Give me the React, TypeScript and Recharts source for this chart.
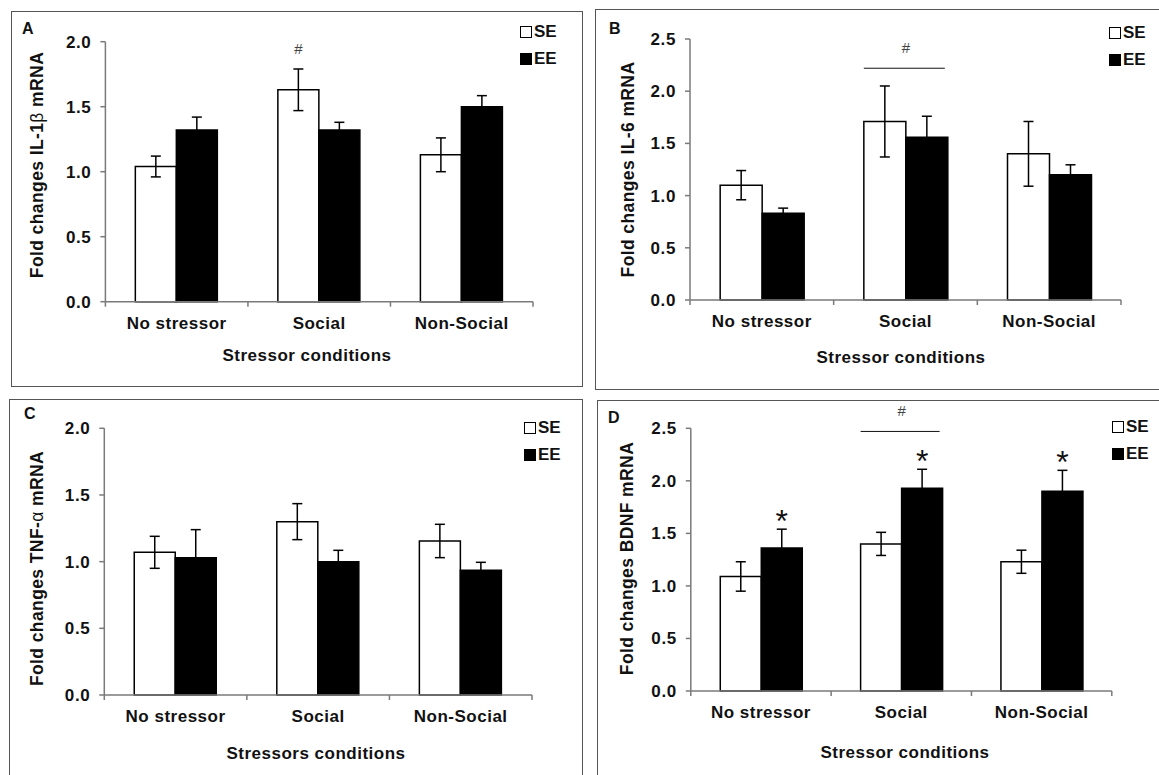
import React from 'react';
import { BarChart, Bar, XAxis, YAxis, ErrorBar, LabelList, Legend, Label } from 'recharts';

const categories = ['No stressor', 'Social', 'Non-Social'];

// A: IL-1β
const il1bSE = [1.04, 1.63, 1.13];
const il1bSEErr = [0.08, 0.16, 0.13];
const il1bEE = [1.32, 1.32, 1.5];
const il1bEEErr = [0.1, 0.06, 0.085];
const il1bSESig = ['', '#', ''];
const il1bEESig = ['', '', ''];

// B: IL-6
const il6SE = [1.1, 1.71, 1.4];
const il6SEErr = [0.14, 0.34, 0.31];
const il6EE = [0.83, 1.56, 1.2];
const il6EEErr = [0.05, 0.2, 0.095];
const il6SESig = ['', '', ''];
const il6EESig = ['', '', ''];

// C: TNF-α
const tnfSE = [1.07, 1.3, 1.155];
const tnfSEErr = [0.12, 0.135, 0.125];
const tnfEE = [1.03, 1.0, 0.935];
const tnfEEErr = [0.21, 0.085, 0.06];
const tnfSESig = ['', '', ''];
const tnfEESig = ['', '', ''];

// D: BDNF
const bdnfSE = [1.09, 1.4, 1.23];
const bdnfSEErr = [0.14, 0.11, 0.11];
const bdnfEE = [1.36, 1.93, 1.9];
const bdnfEEErr = [0.18, 0.18, 0.2];
const bdnfSESig = ['', '', ''];
const bdnfEESig = ['*', '*', '*'];

const ticks2 = [0, 0.5, 1, 1.5, 2];
const ticks25 = [0, 0.5, 1, 1.5, 2, 2.5];

const FONT = '"Liberation Sans", Arial, Helvetica, sans-serif';
const AXIS = '#7a7a7a';
const INK = '#111';

type Margin = { top: number; right: number; bottom: number; left: number };

interface PanelCfg {
  letter: string;
  left: number;
  top: number;
  width: number;
  height: number;
  margin: Margin;
  yAxisWidth: number;
  ticks: number[];
  se: number[];
  seErr: number[];
  ee: number[];
  eeErr: number[];
  seSig: string[];
  eeSig: string[];
  yLabel: React.ReactNode;
  yLabelPos: [number, number];
  xLabel: string;
  xLabelPos: [number, number];
  legendPos: [number, number];
  letterPos: [number, number];
  box: { left: number; top: number; width: number; height: number };
  bracket?: { index: number; level: number };
}

function readBox(props: any) {
  const vb = props.viewBox || {};
  return {
    x: props.x ?? vb.x,
    y: props.y ?? vb.y,
    width: props.width ?? vb.width,
    height: props.height ?? vb.height,
  };
}

function Panel(p: PanelCfg) {
  const plotW = p.width - p.margin.left - p.yAxisWidth - p.margin.right;
  const band = plotW / categories.length;
  const data = categories.map((name, i) => ({
    name,
    se: p.se[i],
    seErr: p.seErr[i],
    ee: p.ee[i],
    eeErr: p.eeErr[i],
    seSig: p.seSig[i],
    eeSig: p.eeSig[i],
  }));

  const XTick = (props: any) => {
    const { x, y, payload, index } = props;
    return (
      <g>
        <line x1={x - band / 2} x2={x - band / 2} y1={y} y2={y + 5} stroke={AXIS} strokeWidth={1.5} />
        {index === categories.length - 1 && (
          <line x1={x + band / 2} x2={x + band / 2} y1={y} y2={y + 5} stroke={AXIS} strokeWidth={1.5} />
        )}
        <text x={x} y={y + 27} textAnchor="middle" fontFamily={FONT} fontWeight="bold" fontSize={17}
          letterSpacing={0.5} fill={INK}>
          {payload.value}
        </text>
      </g>
    );
  };

  const sigLabel = (key: 'se' | 'ee') => (props: any) => {
    const { x, y, width, height } = readBox(props);
    const row: any = data[props.index];
    if (!row) return null;
    const unit = height / row[key];
    const errTop = y - row[key + 'Err'] * unit;
    const sig = row[key + 'Sig'];
    const cx = x + width / 2;
    const out: React.ReactNode[] = [];
    if (sig === '#') {
      out.push(
        <text key="h" x={cx} y={errTop - 15} textAnchor="middle" fontFamily={FONT} fontSize={15} fill="#444">#</text>
      );
    }
    if (sig === '*') {
      out.push(
        <text key="s" x={cx} y={errTop + 3} textAnchor="middle" fontFamily={FONT} fontSize={32} fill={INK}>*</text>
      );
    }
    if (key === 'se' && p.bracket && p.bracket.index === props.index) {
      const lineY = y + height - p.bracket.level * unit;
      out.push(
        <line key="l" x1={x} x2={x + 2 * width - 3} y1={lineY} y2={lineY} stroke={INK} strokeWidth={1} />,
        <text key="b" x={x + width} y={lineY - 15} textAnchor="middle" fontFamily={FONT} fontSize={15} fill="#444">#</text>
      );
    }
    return <g>{out}</g>;
  };

  const legendContent = () => (
    <div style={{ fontFamily: FONT, fontWeight: 'bold', fontSize: 17, color: INK }}>
      {[{ n: 'SE', fill: '#fff' }, { n: 'EE', fill: '#000' }].map((it) => (
        <div key={it.n} style={{ display: 'flex', alignItems: 'center', height: 27 }}>
          <span style={{ display: 'inline-block', width: 12, height: 12, boxSizing: 'border-box',
            border: '1.5px solid #000', background: it.fill, marginRight: 2 }} />
          <span>{it.n}</span>
        </div>
      ))}
    </div>
  );

  return (
    <>
      <div style={{ position: 'absolute', left: p.box.left, top: p.box.top, width: p.box.width, height: p.box.height,
        border: '1.5px solid #555', boxSizing: 'border-box' }} />
      <div style={{ position: 'absolute', left: p.letterPos[0], top: p.letterPos[1], fontFamily: FONT,
        fontWeight: 'bold', fontSize: 16, lineHeight: '16px', color: INK }}>{p.letter}</div>
      <div style={{ position: 'absolute', left: p.left, top: p.top }}>
        <BarChart width={p.width} height={p.height} data={data} margin={p.margin}
          barCategoryGap="21%" barGap={0}>
          <XAxis dataKey="name" height={60} tickSize={0} tickMargin={0} tickLine={false}
            axisLine={{ stroke: AXIS, strokeWidth: 1.5 }} tick={XTick} interval={0}
            label={<Label content={() => (
              <text x={p.xLabelPos[0]} y={p.xLabelPos[1] + 6} textAnchor="middle" fontFamily={FONT}
                fontWeight="bold" fontSize={17} letterSpacing={0.5} fill={INK}>{p.xLabel}</text>
            )} />} />
          <YAxis width={p.yAxisWidth} domain={[0, p.ticks[p.ticks.length - 1]]} ticks={p.ticks}
            interval={0} tickSize={5} tickMargin={9} tickFormatter={(v: number) => v.toFixed(1)}
            axisLine={{ stroke: AXIS, strokeWidth: 1.5 }} tickLine={{ stroke: AXIS, strokeWidth: 1.5 }}
            tick={{ fontFamily: FONT, fontWeight: 'bold', fontSize: 17, fill: INK, letterSpacing: 0.6 }}
            label={<Label content={() => (
              <text x={p.yLabelPos[0]} y={p.yLabelPos[1]} textAnchor="middle" dominantBaseline="central"
                transform={`rotate(-90 ${p.yLabelPos[0]} ${p.yLabelPos[1]})`} fontFamily={FONT}
                fontWeight="bold" fontSize={17.5} letterSpacing={0.4} fill={INK}>{p.yLabel}</text>
            )} />} />
          <Legend verticalAlign="middle" align="center" layout="horizontal"
            wrapperStyle={{ left: p.legendPos[0], top: p.legendPos[1], width: 60, height: 54 }}
            content={legendContent} />
          <Bar dataKey="se" fill="#fff" stroke="#000" strokeWidth={1.5} isAnimationActive={false}>
            <ErrorBar dataKey="seErr" width={5} stroke="#000" strokeWidth={1.5} isAnimationActive={false} />
            <LabelList dataKey="se" content={sigLabel('se')} />
          </Bar>
          <Bar dataKey="ee" fill="#000" stroke="#000" strokeWidth={1.5} isAnimationActive={false}>
            <ErrorBar dataKey="eeErr" width={5} stroke="#000" strokeWidth={1.5} isAnimationActive={false} />
            <LabelList dataKey="ee" content={sigLabel('ee')} />
          </Bar>
        </BarChart>
      </div>
    </>
  );
}

const greek = (g: string) => <tspan fontWeight="normal">{g}</tspan>;

const panels: PanelCfg[] = [
  {
    letter: 'A', left: 11, top: 11, width: 571, height: 375,
    margin: { top: 30.7, right: 49, bottom: 24.3, left: 24.4 }, yAxisWidth: 70, ticks: ticks2,
    se: il1bSE, seErr: il1bSEErr, ee: il1bEE, eeErr: il1bEEErr, seSig: il1bSESig, eeSig: il1bEESig,
    yLabel: <>Fold changes IL-1{greek('β')} mRNA</>, yLabelPos: [26, 154],
    xLabel: 'Stressor conditions', xLabelPos: [296, 344],
    legendPos: [509, 7.5], letterPos: [22, 21],
    box: { left: 11, top: 11, width: 572, height: 376 },
  },
  {
    letter: 'B', left: 595, top: 9, width: 564, height: 380,
    margin: { top: 30, right: 38, bottom: 29, left: 25 }, yAxisWidth: 70, ticks: ticks25,
    se: il6SE, seErr: il6SEErr, ee: il6EE, eeErr: il6EEErr, seSig: il6SESig, eeSig: il6EESig,
    yLabel: 'Fold changes IL-6 mRNA', yLabelPos: [33, 160.5],
    xLabel: 'Stressor conditions', xLabelPos: [306, 348],
    legendPos: [514, 10], letterPos: [609, 21],
    box: { left: 595, top: 9, width: 600, height: 381 },
    bracket: { index: 1, level: 2.22 },
  },
  {
    letter: 'C', left: 9, top: 399, width: 573, height: 376,
    margin: { top: 29.3, right: 50, bottom: 20, left: 25.3 }, yAxisWidth: 70, ticks: ticks2,
    se: tnfSE, seErr: tnfSEErr, ee: tnfEE, eeErr: tnfEEErr, seSig: tnfSESig, eeSig: tnfEESig,
    yLabel: <>Fold changes  TNF-{greek('α')} mRNA</>, yLabelPos: [28, 169.5],
    xLabel: 'Stressors conditions', xLabelPos: [307, 354],
    legendPos: [515, 15], letterPos: [24, 406],
    box: { left: 9, top: 399, width: 574, height: 420 },
  },
  {
    letter: 'D', left: 597, top: 400, width: 562, height: 375,
    margin: { top: 28.3, right: 47.2, bottom: 24, left: 23.8 }, yAxisWidth: 70, ticks: ticks25,
    se: bdnfSE, seErr: bdnfSEErr, ee: bdnfEE, eeErr: bdnfEEErr, seSig: bdnfSESig, eeSig: bdnfEESig,
    yLabel: 'Fold changes BDNF mRNA', yLabelPos: [30, 158.5],
    xLabel: 'Stressor conditions', xLabelPos: [308, 352],
    legendPos: [515, 13.5], letterPos: [608, 410],
    box: { left: 597, top: 400, width: 600, height: 420 },
    bracket: { index: 1, level: 2.47 },
  },
];

export default function App() {
  return (
    <div style={{ position: 'fixed', left: 0, top: 0, width: 1159, height: 775, background: '#fff', overflow: 'hidden' }}>
      {panels.map((p) => (
        <Panel key={p.letter} {...p} />
      ))}
    </div>
  );
}
